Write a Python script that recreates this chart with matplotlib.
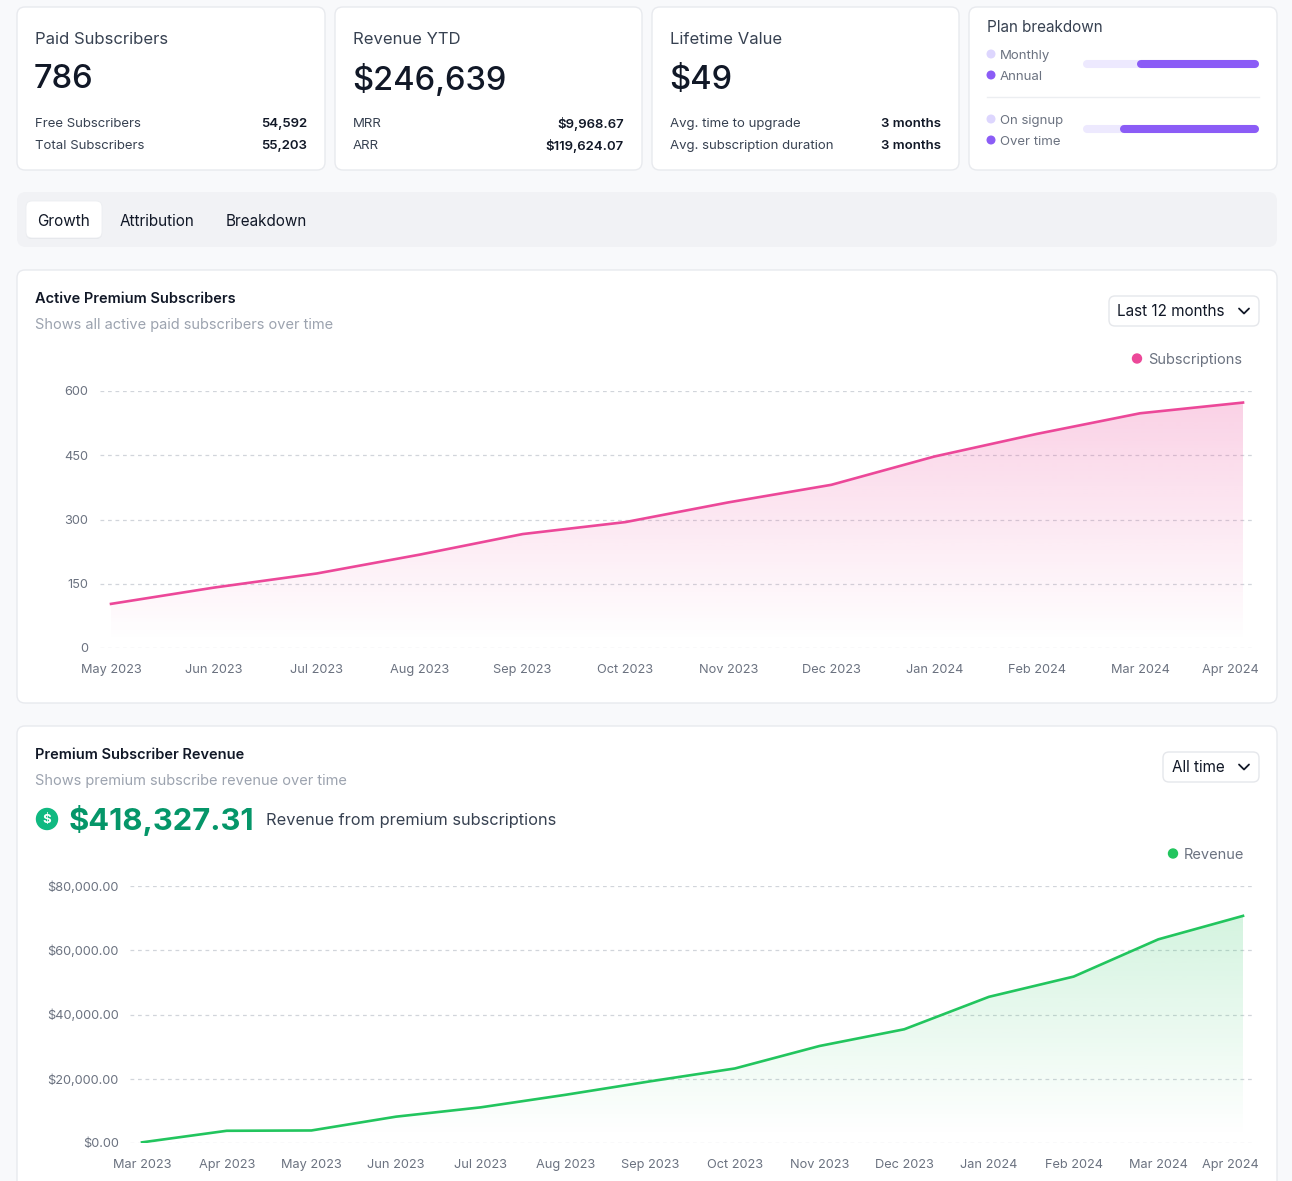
import matplotlib
matplotlib.use('Agg')
import matplotlib.pyplot as plt
import numpy as np
from matplotlib.patches import FancyBboxPatch, Circle, Polygon
from matplotlib.transforms import ScaledTranslation
from matplotlib.colors import to_rgb

plt.rcParams['font.family'] = ['Inter', 'DejaVu Sans']

# ---------------- data ----------------
stat_titles = ['Paid Subscribers', 'Revenue YTD', 'Lifetime Value']
stat_values = ['786', '$246,639', '$49']
stat_row_labels = [['Free Subscribers', 'Total Subscribers'],
                   ['MRR', 'ARR'],
                   ['Avg. time to upgrade', 'Avg. subscription duration']]
stat_row_values = [['54,592', '55,203'],
                   ['$9,968.67', '$119,624.07'],
                   ['3 months', '3 months']]

plan_labels = [['Monthly', 'Annual'], ['On signup', 'Over time']]
plan_first_share = [32, 22]   # percent of light segment (Monthly / On signup)

tabs = ['Growth', 'Attribution', 'Breakdown']

sub_months = ['May 2023', 'Jun 2023', 'Jul 2023', 'Aug 2023', 'Sep 2023', 'Oct 2023',
              'Nov 2023', 'Dec 2023', 'Jan 2024', 'Feb 2024', 'Mar 2024', 'Apr 2024']
sub_values = [103, 141, 174, 218, 266, 294, 340, 381, 447, 500, 548, 573]
sub_yticks = [0, 150, 300, 450, 600]

rev_months = ['Mar 2023', 'Apr 2023', 'May 2023', 'Jun 2023', 'Jul 2023', 'Aug 2023',
              'Sep 2023', 'Oct 2023', 'Nov 2023', 'Dec 2023', 'Jan 2024', 'Feb 2024',
              'Mar 2024', 'Apr 2024']
rev_values = [200, 3800, 3900, 8200, 11100, 15000, 19200, 23200, 30200, 35400,
              45500, 51800, 63400, 70700]
rev_yticks = [0, 20000, 40000, 60000, 80000]
rev_total = '$418,327.31'

# ---------------- figure ----------------
W, H = 1292, 1181
fig = plt.figure(figsize=(W / 100, H / 100), dpi=100)
fig.patch.set_facecolor('#f8f9fb')

bg = fig.add_axes([0, 0, 1, 1])
bg.set_xlim(0, W)
bg.set_ylim(H, 0)
bg.axis('off')

DARK = '#111827'
TXT = '#374151'
GRAY = '#6b7280'
LIGHT = '#9ca3af'
DY = 2  # vertical text offset (px)


def card(x0, y0, x1, y1, fc='white', ec='#e8eaee', r=8, z=1, lw=1.0):
    bg.add_patch(FancyBboxPatch((x0, y0), x1 - x0, y1 - y0,
                                boxstyle=f'round,pad=0,rounding_size={r}',
                                fc=fc, ec=ec, lw=lw, zorder=z))


def txt(x, y, s, size, color=TXT, weight='normal', ha='left', va='center', z=5):
    bg.text(x, y + DY, s, fontsize=size, color=color, fontweight=weight,
            ha=ha, va=va, zorder=z)


def chevron(x, y):
    bg.plot([x - 5, x, x + 5], [y - 2.5, y + 2.5, y - 2.5], color=DARK, lw=1.3,
            solid_capstyle='round', solid_joinstyle='round', zorder=6)


def px_axes(l, t, r, b):
    return fig.add_axes([l / W, 1 - b / H, (r - l) / W, (b - t) / H])


# ---------------- stat cards ----------------
card_x = [(17, 325), (335, 642), (652, 959)]
for i, (x0, x1) in enumerate(card_x):
    card(x0, 7, x1, 170)
    txt(x0 + 18, 37, stat_titles[i], 12, TXT)
    txt(x0 + 17, 78, stat_values[i], 23.5, DARK, weight='medium')
    for j in range(2):
        yy = 122 + j * 22
        txt(x0 + 18, yy, stat_row_labels[i][j], 9.5, TXT)
        txt(x1 - 18, yy, stat_row_values[i][j], 9.5, DARK, weight='semibold', ha='right')

# plan breakdown card
card(969, 7, 1277, 170)
txt(987, 26, 'Plan breakdown', 11, TXT)
bg.plot([987, 1259], [97, 97], color='#eceef1', lw=1, zorder=3)
dot_cols = ['#ddd6fe', '#8b5cf6']
for g in range(2):
    base = 54 + g * 65
    for j in range(2):
        yy = base + j * 21
        bg.add_patch(Circle((991, yy), 3.8, color=dot_cols[j], zorder=5))
        txt(1000, yy, plan_labels[g][j], 9.5, GRAY)

pax = px_axes(1083, 50, 1259, 145)
pax.set_xlim(-4 / 1.68, 100 + 4 / 1.68)
pax.set_ylim(145, 50)
pax.axis('off')
pax.patch.set_alpha(0)
for g in range(2):
    yb = 64 + g * 65
    pax.plot([0, 100], [yb, yb], color='#ede9fe', lw=5.8, solid_capstyle='round', zorder=2)
    pax.plot([plan_first_share[g], 100], [yb, yb], color='#8b5cf6', lw=5.8,
             solid_capstyle='round', zorder=3)

# ---------------- tabs ----------------
card(17, 192, 1277, 247, fc='#f1f2f5', ec='none', r=9)
card(26, 202, 102, 239, fc='#e3e5e9', ec='none', r=6, z=2)
card(26, 201, 102, 238, fc='white', ec='#eceef1', r=6, z=3, lw=0.6)
txt(64, 219, tabs[0], 11, DARK, ha='center')
txt(120, 219, tabs[1], 11, DARK)
txt(226, 219, tabs[2], 11, DARK)

# ---------------- chart card 1 ----------------
card(17, 270, 1277, 703)
txt(35, 297, 'Active Premium Subscribers', 10.5, DARK, weight='semibold')
txt(35, 323, 'Shows all active paid subscribers over time', 10.5, LIGHT)
card(1109, 296, 1259, 326, fc='white', ec='#e5e7eb', r=6, z=4)
txt(1117, 310, 'Last 12 months', 11, DARK)
chevron(1244, 311)
bg.add_patch(Circle((1137, 358.5), 4.5, color='#ec4899', zorder=5))
txt(1148, 358, 'Subscriptions', 10.5, GRAY)

# ---------------- chart card 2 ----------------
card(17, 726, 1277, 1200)
txt(35, 753, 'Premium Subscriber Revenue', 10.5, DARK, weight='semibold')
txt(35, 779, 'Shows premium subscribe revenue over time', 10.5, LIGHT)
card(1163, 752, 1259, 782, fc='white', ec='#e5e7eb', r=6, z=4)
txt(1172, 766, 'All time', 11, DARK)
chevron(1244, 767)
bg.add_patch(Circle((47, 819), 10.5, color='#10b981', zorder=5))
txt(47, 817.5, '$', 9.5, 'white', weight='bold', ha='center', z=6)
txt(69, 818, rev_total, 22.3, '#059669', weight='bold')
txt(266, 818, 'Revenue from premium subscriptions', 11.8, TXT)
bg.add_patch(Circle((1173, 853.5), 4.5, color='#22c55e', zorder=5))
txt(1184, 853, 'Revenue', 10.5, GRAY)


# ---------------- line charts ----------------
def gradient_area(ax, x, y, color, a_top, ymax, y_fade):
    rgb = to_rgb(color)
    n = 256
    v = np.linspace(0, ymax, n)
    a = np.clip((v - y_fade) / (ymax - y_fade), 0, 1) * a_top
    img = np.zeros((n, 1, 4))
    img[:, 0, :3] = rgb
    img[:, 0, 3] = a
    im = ax.imshow(img, extent=[x[0], x[-1], 0, ymax], origin='lower',
                   aspect='auto', zorder=1, interpolation='bilinear')
    verts = [(x[0], 0)] + list(zip(x, y)) + [(x[-1], 0)]
    poly = Polygon(verts, closed=True, fc='none', ec='none')
    ax.add_patch(poly)
    im.set_clip_path(poly)


def style_axes(ax, ylabels, ypad, size):
    ax.patch.set_alpha(0)
    for s in ax.spines.values():
        s.set_visible(False)
    ax.grid(axis='y', color='#d1d5db', lw=0.9, linestyle=(0, (3, 3)))
    ax.set_axisbelow(True)
    ax.tick_params(axis='both', length=0, labelsize=size, labelcolor=GRAY)
    ax.tick_params(axis='y', pad=ypad)
    ax.tick_params(axis='x', pad=11.5)
    ax.set_yticklabels(ylabels)


def shift_last_label(ax, dx_px):
    lab = ax.get_xticklabels()[-1]
    lab.set_ha('right')
    lab.set_transform(lab.get_transform() + ScaledTranslation(dx_px / 100, 0, fig.dpi_scale_trans))


# chart 1
ax1 = px_axes(100, 391, 1255, 648)
ax1.set_zorder(10)
x1 = np.arange(len(sub_values))
sp1 = 102.9
gradient_area(ax1, x1, sub_values, '#ec4899', 0.26, 600, 15)
ax1.plot(x1, sub_values, color='#ec4899', lw=1.9, zorder=3, solid_joinstyle='round')
ax1.set_xlim(-11 / sp1, x1[-1] + 12 / sp1)
ax1.set_ylim(0, 600)
ax1.set_yticks(sub_yticks)
ax1.set_xticks(x1)
ax1.set_xticklabels(sub_months)
style_axes(ax1, [str(v) for v in sub_yticks], 8.5, 9.2)
shift_last_label(ax1, 16)

# chart 2
ax2 = px_axes(130, 886, 1255, 1143)
ax2.set_zorder(10)
x2 = np.arange(len(rev_values))
sp2 = 84.69
gradient_area(ax2, x2, rev_values, '#22c55e', 0.22, 80000, 2000)
ax2.plot(x2, rev_values, color='#22c55e', lw=1.9, zorder=3, solid_joinstyle='round')
ax2.set_xlim(-12 / sp2, x2[-1] + 12 / sp2)
ax2.set_ylim(0, 80000)
ax2.set_yticks(rev_yticks)
ax2.set_xticks(x2)
ax2.set_xticklabels(rev_months)
style_axes(ax2, [f'${v:,.2f}' for v in rev_yticks], 8, 9.2)
shift_last_label(ax2, 16)

fig.savefig('out.png', dpi=100, facecolor=fig.get_facecolor())
